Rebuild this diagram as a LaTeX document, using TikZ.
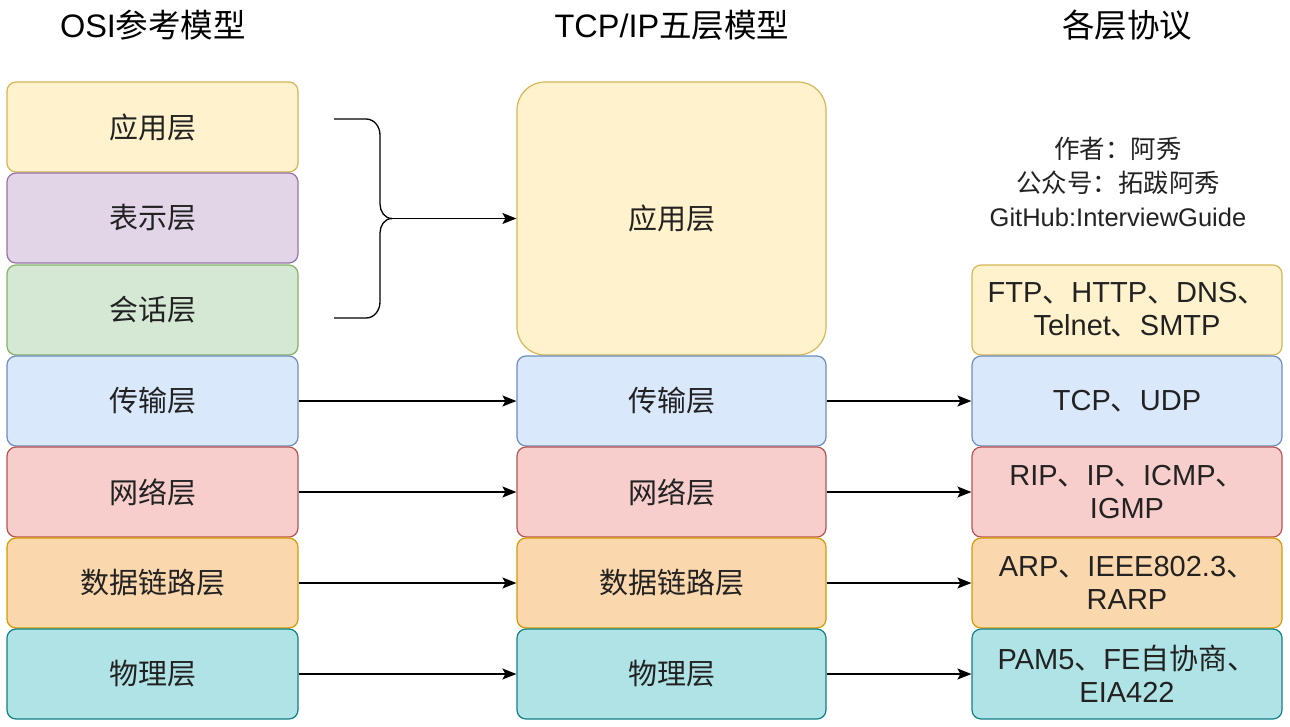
\documentclass[tikz,border=0pt]{standalone}
\usepackage{fontspec}
\setmainfont{Liberation Sans}
\newfontfamily\cjk{Noto Sans CJK SC}
\usetikzlibrary{arrows.meta}
\definecolor{yfill}{HTML}{FFF2CC}\definecolor{ydraw}{HTML}{D6B656}
\definecolor{pfill}{HTML}{E1D5E7}\definecolor{pdraw}{HTML}{9673A6}
\definecolor{gfill}{HTML}{D5E8D4}\definecolor{gdraw}{HTML}{82B366}
\definecolor{bfill}{HTML}{DAE8FC}\definecolor{bdraw}{HTML}{6C8EBF}
\definecolor{rfill}{HTML}{F8CECC}\definecolor{rdraw}{HTML}{B85450}
\definecolor{ofill}{HTML}{FAD7AC}\definecolor{odraw}{HTML}{D79B00}
\definecolor{cfill}{HTML}{B0E3E6}\definecolor{cdraw}{HTML}{0E8088}
\definecolor{txt}{HTML}{222222}
\newcommand\zhd{{\cjk 、}}
\begin{document}
\begin{tikzpicture}[x=1pt,y=-1pt,
  layer/.style={draw, line width=1.2pt, rounded corners=9pt, inner sep=0pt, align=center,
    text=txt, font=\fontsize{29}{33}\selectfont},
  lcol/.style={layer, minimum width=291pt, minimum height=90pt},
  mcol/.style={layer, minimum width=309pt, minimum height=90pt},
  rcol/.style={layer, minimum width=310pt, minimum height=90pt},
  yl/.style={fill=yfill, draw=ydraw},
  pl/.style={fill=pfill, draw=pdraw},
  gl/.style={fill=gfill, draw=gdraw},
  bl/.style={fill=bfill, draw=bdraw},
  rl/.style={fill=rfill, draw=rdraw},
  ol/.style={fill=ofill, draw=odraw},
  cl/.style={fill=cfill, draw=cdraw},
  title/.style={font=\fontsize{32.5}{36}\selectfont, text=black},
  arr/.style={line width=1.3pt, -{Stealth[length=14pt,width=11pt,inset=3pt]}},
]
\useasboundingbox (0,0) rectangle (1290,726);
% titles
\node[title] (h1) at (153,25) {OSI{\cjk 参考模型}};
\node[title] (h2) at (672,25) {TCP/IP{\cjk 五层模型}};
\node[title] (h3) at (1127,25) {\cjk 各层协议};
% OSI column
\node[lcol, yl] (o1) at (152.5,127) {\cjk 应用层};
\node[lcol, pl] (o2) at (152.5,218) {\cjk 表示层};
\node[lcol, gl] (o3) at (152.5,310) {\cjk 会话层};
\node[lcol, bl] (o4) at (152.5,401) {\cjk 传输层};
\node[lcol, rl] (o5) at (152.5,492) {\cjk 网络层};
\node[lcol, ol] (o6) at (152.5,583) {\cjk 数据链路层};
\node[lcol, cl] (o7) at (152.5,674) {\cjk 物理层};
% TCP/IP column
\node[mcol, yl, minimum height=273pt, rounded corners=28pt] (t1) at (671.5,218.5) {\cjk 应用层};
\node[mcol, bl] (t2) at (671.5,401) {\cjk 传输层};
\node[mcol, rl] (t3) at (671.5,492) {\cjk 网络层};
\node[mcol, ol] (t4) at (671.5,583) {\cjk 数据链路层};
\node[mcol, cl] (t5) at (671.5,674) {\cjk 物理层};
% protocol column
\node[rcol, yl] (p1) at (1127,310) {FTP\zhd HTTP\zhd DNS\zhd\\Telnet\zhd SMTP};
\node[rcol, bl] (p2) at (1127,401) {TCP\zhd UDP};
\node[rcol, rl] (p3) at (1127,492) {RIP\zhd IP\zhd ICMP\zhd\\IGMP};
\node[rcol, ol] (p4) at (1127,583) {ARP\zhd IEEE802.3\zhd\\RARP};
\node[rcol, cl] (p5) at (1127,674) {PAM5\zhd FE{\cjk 自协商}\zhd\\EIA422};
% author
\node[align=center, text=txt, font=\fontsize{25.5}{34}\selectfont] (au) at (1118,182)
  {{\cjk 作者：阿秀}\\{\cjk 公众号：拓跋阿秀}\\GitHub:InterviewGuide};
% brace
\coordinate (bt) at (334,119);
\coordinate (bb) at (334,318);
\coordinate (tip) at (392,218.5);
\draw[line width=1.3pt] (bt) -- (366,119) to[out=0,in=90] (380,135) -- (380,204)
  to[out=-90,in=180] (tip);
\draw[line width=1.3pt] (tip) to[out=180,in=90] (380,233) -- (380,302)
  to[out=-90,in=0] (366,318) -- (bb);
\draw[arr] (tip) -- (t1.west);
% arrows
\draw[arr] (o4.east) -- (t2.west);
\draw[arr] (o5.east) -- (t3.west);
\draw[arr] (o6.east) -- (t4.west);
\draw[arr] (o7.east) -- (t5.west);
\draw[arr] (t2.east) -- (p2.west);
\draw[arr] (t3.east) -- (p3.west);
\draw[arr] (t4.east) -- (p4.west);
\draw[arr] (t5.east) -- (p5.west);
\end{tikzpicture}
\end{document}
